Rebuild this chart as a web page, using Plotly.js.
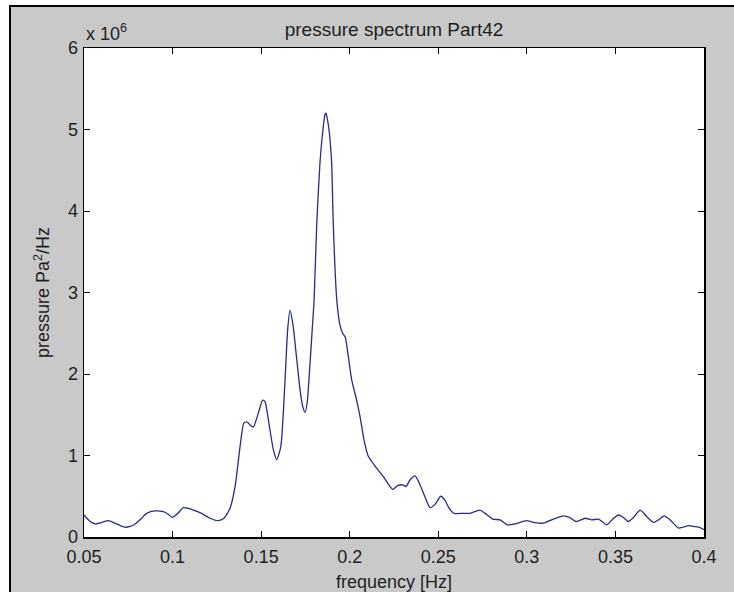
<!DOCTYPE html>
<html>
<head>
<meta charset="utf-8">
<script src="https://cdn.plot.ly/plotly-3.0.1.min.js"></script>
<style>
  html, body { margin: 0; padding: 0; background: #ffffff; }
  #bg { position: absolute; left: 9px; top: 5px; width: 725px; height: 587px;
        background: #c9c9c9; border-top: 2px solid #000; border-left: 2px solid #000; box-sizing: border-box; }
  #chart { position: absolute; left: 0; top: 0; width: 734px; height: 592px; }
</style>
</head>
<body>
<div id="bg"></div>
<div id="chart"></div>
<script>
// frequency [Hz]
const freq = [0.0500,0.0530,0.0562,0.0600,0.0637,0.0675,0.0705,0.0731,0.0760,0.0788,
  0.0820,0.0854,0.0900,0.0948,0.0975,0.0999,0.1030,0.1060,0.1090,0.1117,
  0.1164,0.1211,0.1258,0.1290,0.1324,0.1353,0.1381,0.1403,0.1422,0.1440,
  0.1456,0.1484,0.1509,0.1522,0.1535,0.1550,0.1569,0.1588,0.1611,0.1635,
  0.1650,0.1663,0.1680,0.1700,0.1720,0.1735,0.1748,0.1760,0.1775,0.1790,
  0.1799,0.1814,0.1832,0.1847,0.1860,0.1866,0.1872,0.1885,0.1898,0.1907,
  0.1927,0.1945,0.1960,0.1975,0.1990,0.2011,0.2039,0.2058,0.2081,0.2105,
  0.2143,0.2190,0.2218,0.2243,0.2271,0.2300,0.2318,0.2340,0.2369,0.2393,
  0.2425,0.2454,0.2482,0.2514,0.2538,0.2562,0.2589,0.2640,0.2679,0.2736,
  0.2764,0.2807,0.2849,0.2890,0.2933,0.2999,0.3037,0.3093,0.3150,0.3206,
  0.3240,0.3278,0.3329,0.3367,0.3404,0.3451,0.3480,0.3517,0.3545,0.3573,
  0.3602,0.3640,0.3677,0.3715,0.3743,0.3775,0.3809,0.3856,0.3913,0.3940,
  0.3970,0.4000];
// pressure spectrum, in units of 10^6 Pa^2/Hz
const pressure = [0.27,0.20,0.16,0.18,0.20,0.17,0.14,0.12,0.13,0.16,
  0.22,0.29,0.32,0.31,0.28,0.24,0.29,0.36,0.35,0.33,
  0.29,0.23,0.20,0.23,0.35,0.62,1.11,1.40,1.41,1.37,
  1.35,1.52,1.68,1.66,1.52,1.31,1.07,0.95,1.11,1.93,
  2.55,2.78,2.60,2.20,1.80,1.60,1.53,1.65,2.10,2.60,
  2.91,3.85,4.59,4.96,5.18,5.20,5.15,4.96,4.59,3.85,
  2.91,2.60,2.50,2.45,2.25,1.93,1.68,1.48,1.19,0.99,
  0.87,0.74,0.65,0.585,0.63,0.64,0.62,0.70,0.75,0.66,
  0.49,0.36,0.40,0.50,0.45,0.35,0.29,0.29,0.29,0.33,
  0.29,0.22,0.21,0.15,0.16,0.20,0.18,0.17,0.22,0.26,
  0.24,0.19,0.23,0.21,0.22,0.15,0.21,0.27,0.24,0.19,
  0.24,0.33,0.25,0.18,0.21,0.26,0.21,0.11,0.14,0.13,
  0.12,0.09];
const xTicks = [0.05,0.1,0.15,0.2,0.25,0.3,0.35,0.4];
const xTickLabels = ["0.05","0.1","0.15","0.2","0.25","0.3","0.35","0.4"];
const yTicks = [0,1,2,3,4,5,6];
const yTickLabels = ["0","1","2","3","4","5","6"];

const font = "Liberation Sans, Arial, sans-serif";
const txt = "#1e1e1e";

const trace = {
  x: freq, y: pressure, type: "scatter", mode: "lines",
  line: { color: "#2a2a8c", width: 1.3, shape: "spline", smoothing: 0.6 },
  hoverinfo: "skip"
};

const layout = {
  width: 734, height: 592,
  margin: { l: 84, r: 30, t: 48, b: 55, pad: 0 },
  paper_bgcolor: "rgba(0,0,0,0)",
  plot_bgcolor: "#ffffff",
  showlegend: false,
  font: { family: font, size: 18, color: txt },
  title: { text: "pressure spectrum Part42", font: { family: font, size: 19, color: txt },
           x: 0.5, xref: "paper", xanchor: "center", y: 1 - 29/592, yref: "container", yanchor: "middle" },
  xaxis: {
    range: [0.05, 0.4], tickvals: xTicks, ticktext: xTickLabels,
    ticks: "inside", ticklen: 6, tickwidth: 1, tickcolor: "#000",
    showline: true, linecolor: "#000", linewidth: 1.5, mirror: "allticks",
    showgrid: false, zeroline: false, automargin: false,
    ticklabelstandoff: 3,
    tickfont: { family: font, size: 18, color: txt },
    title: { text: "frequency [Hz]", font: { family: font, size: 18, color: txt }, standoff: 9 }
  },
  yaxis: {
    range: [0, 6], tickvals: yTicks, ticktext: yTickLabels,
    ticks: "inside", ticklen: 6, tickwidth: 1, tickcolor: "#000",
    showline: true, linecolor: "#000", linewidth: 1.5, mirror: "allticks",
    showgrid: false, zeroline: false, automargin: false,
    ticklabelstandoff: 1,
    tickfont: { family: font, size: 18, color: txt },
    title: { text: "pressure Pa<sup>2</sup>/Hz", font: { family: font, size: 18, color: txt }, standoff: 13 }
  },
  annotations: [{
    text: "x 10<sup>6</sup>", xref: "paper", yref: "paper", x: 0, y: 1,
    xanchor: "left", yanchor: "bottom", yshift: 2, showarrow: false,
    font: { family: font, size: 18, color: txt }
  }]
};

Plotly.newPlot("chart", [trace], layout, { staticPlot: true, displayModeBar: false });
</script>
</body>
</html>
